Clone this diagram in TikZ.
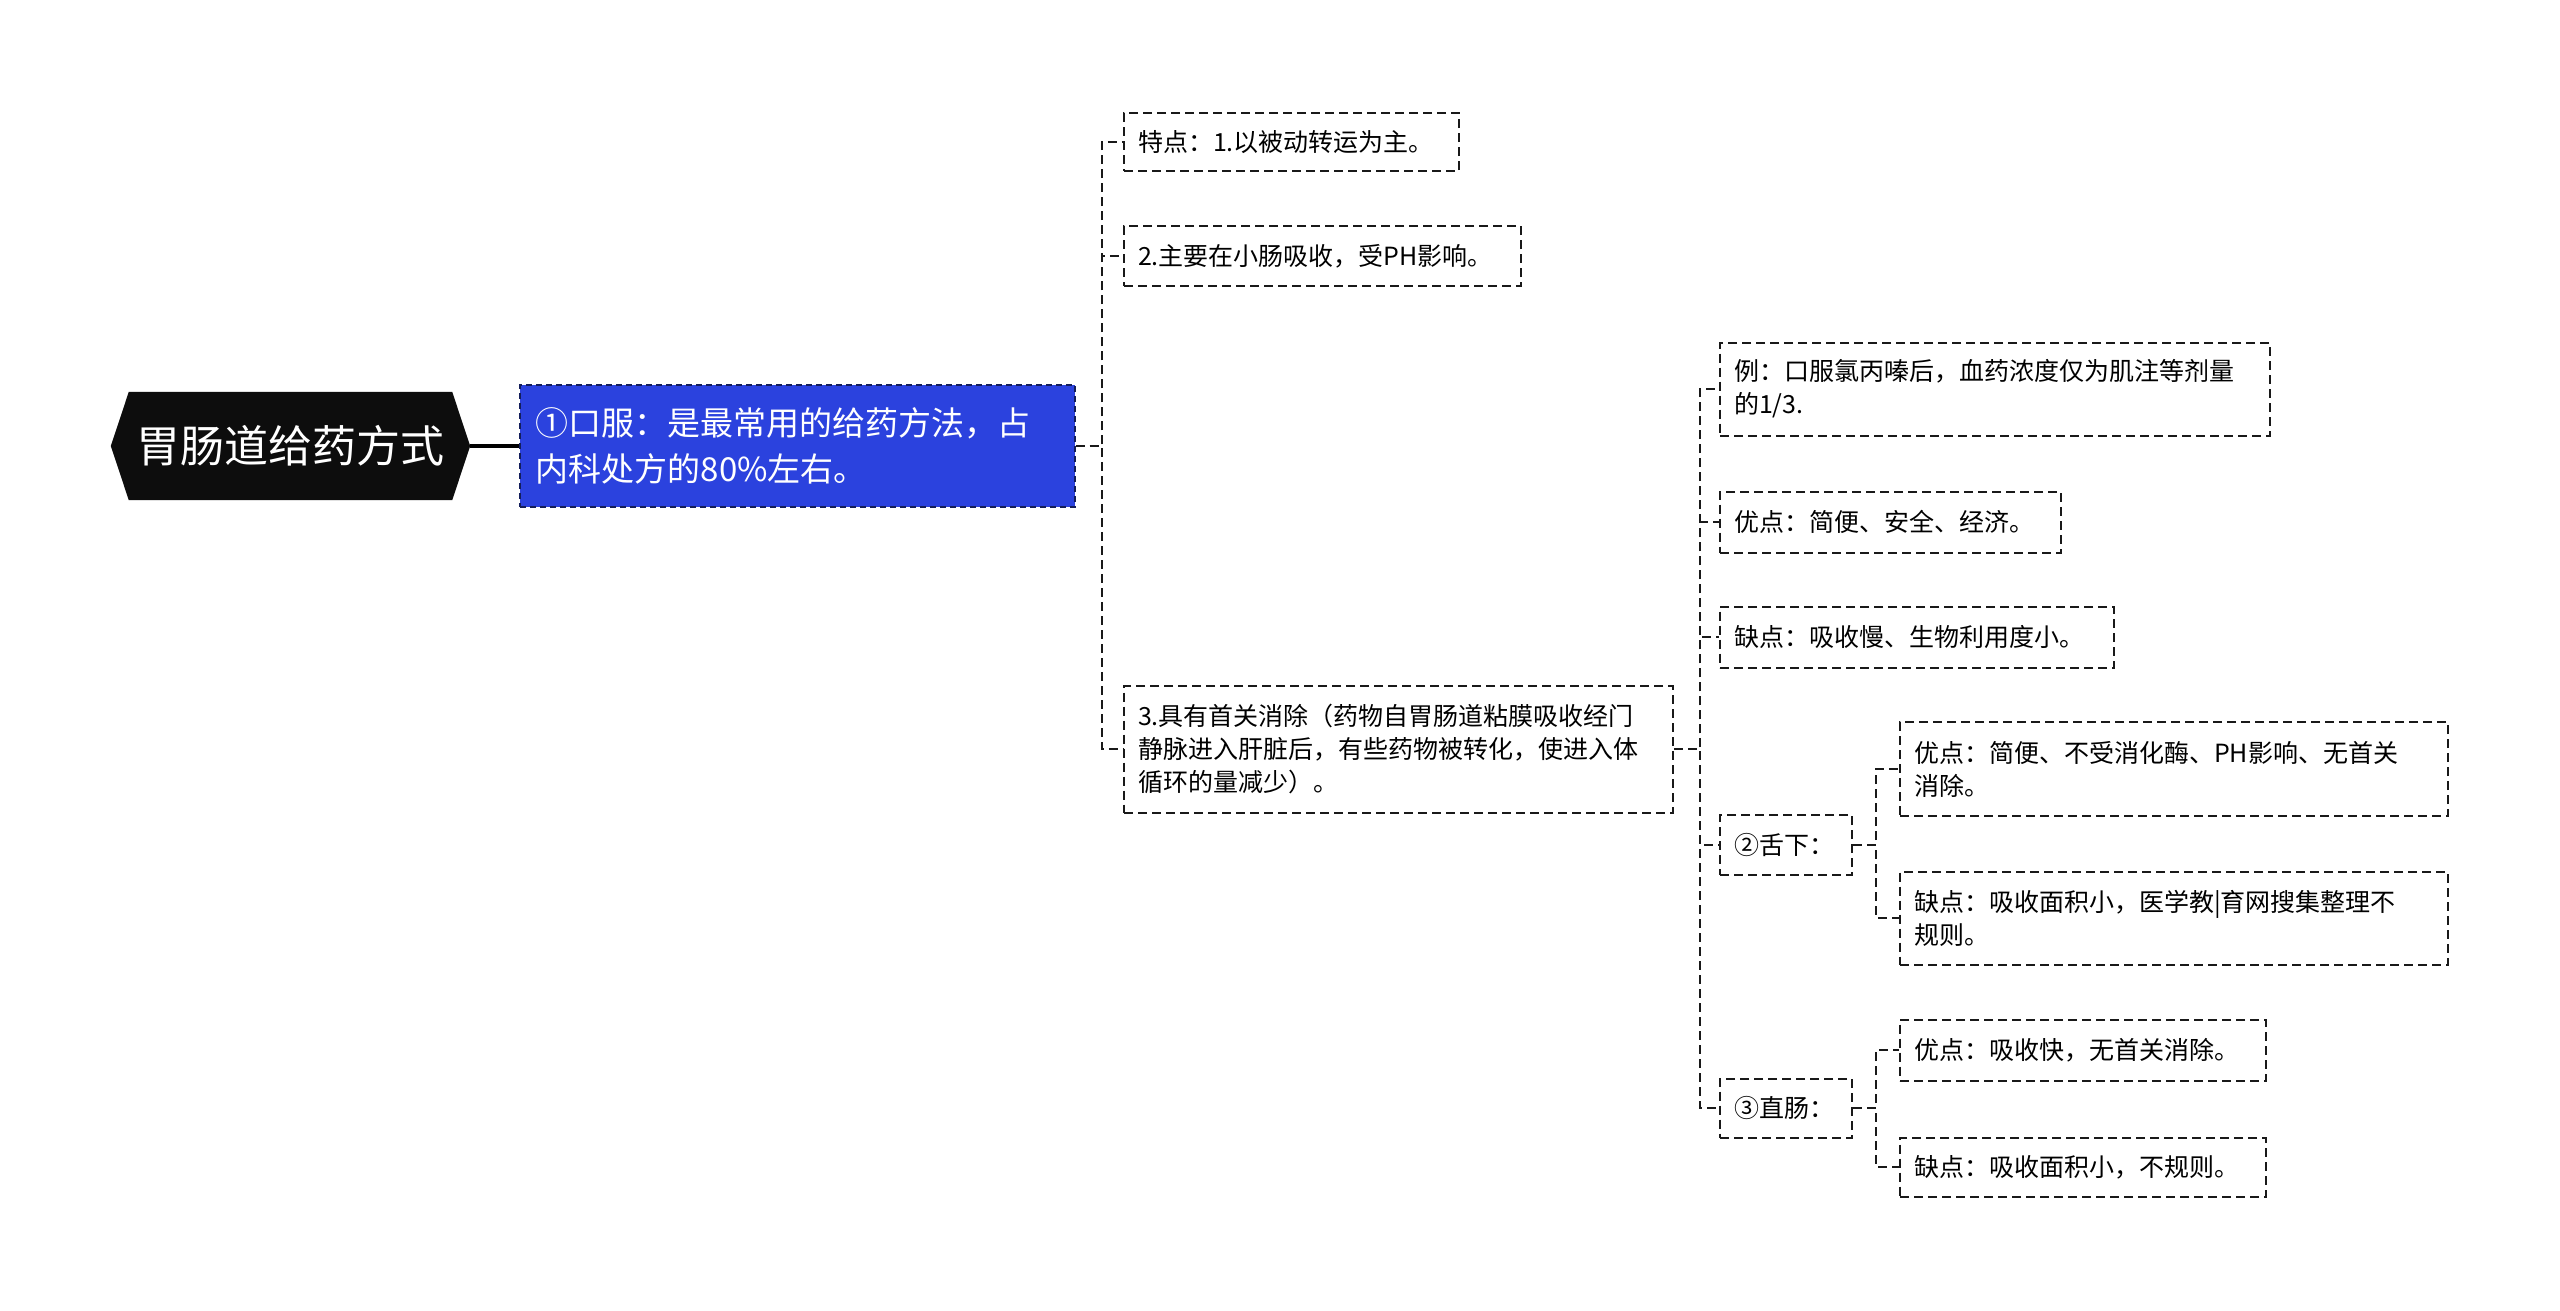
\documentclass[tikz,border=0pt]{standalone}
\usepackage{fontspec}
\newfontfamily\cjk{Noto Sans CJK SC}
\usetikzlibrary{backgrounds}
\definecolor{bluebox}{RGB}{43,66,222}
\definecolor{lineclr}{RGB}{25,25,25}
\definecolor{blueborder}{RGB}{20,30,90}
\tikzset{
  leaf/.style={draw=lineclr, line width=2pt, dash pattern=on 9pt off 5pt, anchor=west,
    align=left, inner xsep=14pt, inner ysep=0pt, font=\cjk\fontsize{25}{33}\selectfont, text=black},
  conn/.style={draw=lineclr, line width=2pt, dash pattern=on 9pt off 5pt},
}
\begin{document}
\begin{tikzpicture}[x=1pt,y=-1pt]
\useasboundingbox (0,0) rectangle (2560,1310);

% root
\node[minimum width=359pt, minimum height=108pt, text=white, inner sep=0pt,
  font=\cjk\fontsize{44}{52}\selectfont] (root) at (290.5,446) {胃肠道给药方式};
\begin{scope}[on background layer]
\fill[white] (0,0) rectangle (2560,1310);
\fill[black!95] (root.west) -- ([xshift=18pt]root.north west) -- ([xshift=-18pt]root.north east)
  -- (root.east) -- ([xshift=-18pt]root.south east) -- ([xshift=18pt]root.south west) -- cycle;
\end{scope}

% level 1
\node[anchor=west, fill=bluebox, draw=blueborder, line width=1.8pt, dash pattern=on 6pt off 4pt,
  text width=523pt, minimum height=122pt, inner xsep=16pt, inner ysep=0pt, align=left, text=white,
  font=\cjk\fontsize{33}{46}\selectfont] (n1) at (519,446)
  {①口服：是最常用的给药方法，占\\内科处方的80\%左右。};

% level 2
\node[leaf, text width=307pt, minimum height=58pt] (a) at (1123,142) {特点：1.以被动转运为主。};
\node[leaf, text width=369pt, minimum height=60pt] (b) at (1123,256) {2.主要在小肠吸收，受PH影响。};
\node[leaf, text width=521pt, minimum height=127pt] (c) at (1123,749)
  {3.具有首关消除（药物自胃肠道粘膜吸收经门\\静脉进入肝脏后，有些药物被转化，使进入体\\循环的量减少）。};

% level 3
\node[leaf, text width=522pt, minimum height=93pt] (d) at (1719,389)
  {例：口服氯丙嗪后，血药浓度仅为肌注等剂量\\的1/3.};
\node[leaf, text width=313pt, minimum height=61pt] (e) at (1719,522) {优点：简便、安全、经济。};
\node[leaf, text width=366pt, minimum height=61pt] (f) at (1719,637) {缺点：吸收慢、生物利用度小。};
\node[leaf, text width=104pt, minimum height=60pt] (g) at (1719,845) {②舌下：};
\node[leaf, text width=104pt, minimum height=59pt] (h) at (1719,1108) {③直肠：};

% level 4
\node[leaf, text width=520pt, minimum height=94pt] (i) at (1899,769)
  {优点：简便、不受消化酶、PH影响、无首关\\消除。};
\node[leaf, text width=520pt, minimum height=93pt] (j) at (1899,918)
  {缺点：吸收面积小，医学教|育网搜集整理不\\规则。};
\node[leaf, text width=338pt, minimum height=61pt] (k) at (1899,1050) {优点：吸收快，无首关消除。};
\node[leaf, text width=338pt, minimum height=59pt] (l) at (1899,1167) {缺点：吸收面积小，不规则。};

% connectors
\draw[line width=4pt, black] (root.east) -- (n1.west);
\foreach \t in {a,b,c} \draw[conn] (n1.east) -- ++(26pt,0) |- (\t.west);
\foreach \t in {d,e,f,g,h} \draw[conn] (c.east) -- ++(26pt,0) |- (\t.west);
\foreach \t in {i,j} \draw[conn] (g.east) -- ++(23pt,0) |- (\t.west);
\foreach \t in {k,l} \draw[conn] (h.east) -- ++(23pt,0) |- (\t.west);
\end{tikzpicture}
\end{document}
